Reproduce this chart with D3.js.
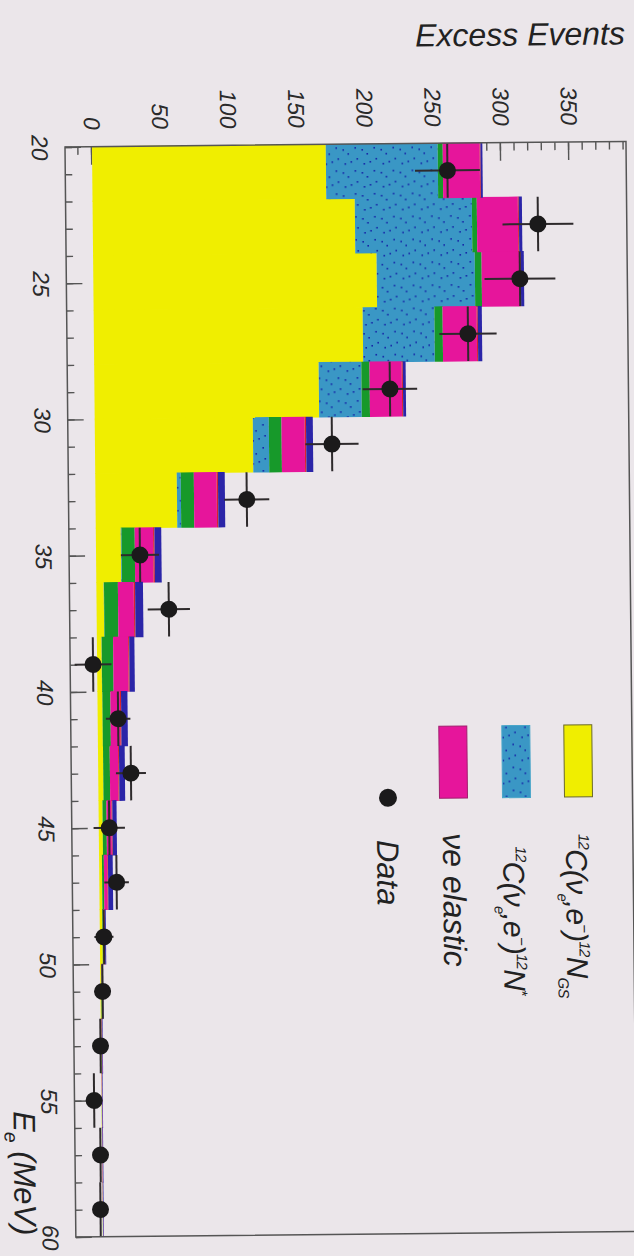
<!DOCTYPE html>
<html>
<head>
<meta charset="utf-8">
<script src="https://cdn.jsdelivr.net/npm/d3@7"></script>
<style>
  html, body { margin: 0; padding: 0; background: #ebe6ea; }
  svg { display: block; }
</style>
</head>
<body>
<script>
// Energy bins (lower edge, MeV), each 2 MeV wide
const binStarts = [20, 22, 24, 26, 28, 30, 32, 34, 36, 38, 40, 42, 44, 46, 48, 50, 52, 54, 56, 58];

// Predicted contributions per bin (events)
const c12GroundState = [171.5, 192.4, 208, 197.4, 164.7, 116, 59.8, 18.3, 5.4, 3.4, 3.6, 3.7, 2.9, 2.1, 2.0, 0.8, 0.4, 0.2, 0.1, 0.1];
const c12Excited     = [82.1, 85.9, 72, 52.6, 31.3, 11.7, 2.9, 0.5, 0.2, 0.1, 0, 0, 0, 0, 0, 0, 0, 0, 0, 0];
const otherGreen     = [3.7, 3.6, 5, 6, 6, 9.3, 9.6, 9.7, 10.2, 8.4, 5.9, 4.9, 2.9, 1.4, 0.6, 0.3, 0.2, 0.1, 0.1, 0.1];
const nuEElastic     = [27.1, 30.1, 28, 25, 23.6, 17, 16.7, 13.5, 11.6, 11, 7, 6.1, 3.7, 2.5, 0.9, 0.4, 0.3, 0.2, 0.2, 0.1];
const otherRed       = [0.6, 0.7, 0.7, 0.8, 0.8, 1, 1, 1, 1, 0.8, 0.8, 0.7, 0.6, 0.5, 0.3, 0.2, 0.1, 0.1, 0.1, 0.1];
const otherViolet    = [1.4, 2.3, 2.3, 3, 2.1, 5, 5, 5, 5.8, 3.8, 4.7, 4.2, 3.1, 3.5, 0.7, 0.4, 0.4, 0.4, 0.4, 0.4];

// Measured excess (bin centres, counts, statistical errors)
const dataEnergy = [21, 23, 25, 27, 29, 31, 33, 35, 37, 39, 41, 43, 45, 47, 49, 51, 53, 55, 57, 59];
const dataEvents = [260.6, 326.6, 313, 274.5, 216.8, 173.9, 111, 32.2, 53, -3, 15, 24, 7.7, 12.7, 3, 1.6, -0.3, -5.4, -1.1, -1.5];
const dataError  = [23.8, 26, 26, 21, 20, 19.5, 16.5, 14, 15.5, 13.5, 9, 11, 11.5, 9, 7, 6, 5, 6, 5, 5];

// Axis ticks
const energyLabels = [20, 25, 30, 35, 40, 45, 50, 55, 60];
const eventLabels  = [0, 50, 100, 150, 200, 250, 300, 350];

const W = 634, H = 1256;
const FONT = "'Liberation Sans', Arial, Helvetica, sans-serif";

const svg = d3.select("body").append("svg")
  .attr("width", W).attr("height", H)
  .attr("font-family", FONT);

svg.append("rect").attr("width", W).attr("height", H).attr("fill", "#ebe6ea");

// Speckled fill used for the excited-state component
const defs = svg.append("defs");
const speck = defs.append("pattern")
  .attr("id", "speck").attr("patternUnits", "userSpaceOnUse")
  .attr("width", 23).attr("height", 19);
speck.append("rect").attr("width", 23).attr("height", 19).attr("fill", "#3a97c5");
[[3, 4], [14, 2], [9, 11], [19, 14], [5, 16], [17, 8]].forEach(([cx, cy]) =>
  speck.append("rect").attr("x", cx).attr("y", cy).attr("width", 1.6).attr("height", 1.6).attr("fill", "#1424a8"));

// Whole figure sits slightly tilted on the page
const tilt = svg.append("g").attr("transform", "rotate(-0.57,65,147)");

// The plot is laid out with energy along its long side, then turned a quarter clockwise
const plotW = 1090, plotH = 561;
const g = tilt.append("g").attr("transform", "translate(626,147) rotate(90)");

const x = d3.scaleLinear().domain([20, 60]).range([0, plotW]);
const y = d3.scaleLinear().domain([-19.8, 391.8]).range([plotH, 0]);

const tickColor = "#555";

// Energy-axis ticks (inward)
g.append("g").attr("transform", `translate(0,${plotH})`)
  .call(d3.axisBottom(x).tickValues(d3.range(20, 61, 1)).tickSize(-7).tickFormat(""))
  .call(a => { a.select(".domain").remove(); a.selectAll("line").attr("stroke", tickColor).attr("stroke-width", 1.4); });
g.append("g").attr("transform", `translate(0,${plotH})`)
  .call(d3.axisBottom(x).tickValues(energyLabels).tickSize(-16).tickFormat(""))
  .call(a => { a.select(".domain").remove(); a.selectAll("line").attr("stroke", tickColor).attr("stroke-width", 1.4); });

// Event-axis ticks (inward)
g.append("g")
  .call(d3.axisLeft(y).tickValues(d3.range(-10, 391, 10)).tickSize(-8).tickFormat(""))
  .call(a => { a.select(".domain").remove(); a.selectAll("line").attr("stroke", tickColor).attr("stroke-width", 1.4); });
g.append("g")
  .call(d3.axisLeft(y).tickValues(eventLabels).tickSize(-18).tickFormat(""))
  .call(a => { a.select(".domain").remove(); a.selectAll("line").attr("stroke", tickColor).attr("stroke-width", 1.4); });

// Tick labels
g.append("g").attr("transform", `translate(0,${plotH})`)
  .call(d3.axisBottom(x).tickValues(energyLabels).tickSize(0).tickPadding(17))
  .call(a => {
    a.select(".domain").remove();
    a.selectAll("text").attr("font-size", 23).attr("font-style", "italic")
      .attr("font-family", FONT).attr("fill", "#2a2a2a");
  });
g.append("g")
  .call(d3.axisLeft(y).tickValues(eventLabels).tickSize(0).tickPadding(17))
  .call(a => {
    a.select(".domain").remove();
    a.selectAll("text").attr("font-size", 23).attr("font-style", "italic")
      .attr("font-family", FONT).attr("fill", "#2a2a2a");
  });

// Stacked prediction
const keys = ["gs", "nstar", "green", "elastic", "red", "violet"];
const fills = {
  gs: "#f0ee00", nstar: "url(#speck)", green: "#17992a",
  elastic: "#e6159b", red: "#d8222a", violet: "#2b25a8"
};
const table = binStarts.map((e, i) => ({
  e,
  gs: c12GroundState[i], nstar: c12Excited[i], green: otherGreen[i],
  elastic: nuEElastic[i], red: otherRed[i], violet: otherViolet[i]
}));
const layers = d3.stack().keys(keys)(table);

g.append("g").selectAll("g").data(layers).join("g")
  .attr("fill", d => fills[d.key])
  .selectAll("rect").data(d => d).join("rect")
  .attr("x", d => x(d.data.e) - 0.4)
  .attr("width", d => x(d.data.e + 2) - x(d.data.e) + 0.8)
  .attr("y", d => y(d[1]))
  .attr("height", d => Math.max(0, y(d[0]) - y(d[1])));

// Data points with error bars
const pts = dataEnergy.map((e, i) => ({ e, v: dataEvents[i], err: dataError[i] }));
const pg = g.append("g").attr("stroke", "#2e2a2c").attr("stroke-width", 2);
pg.selectAll("line.bin").data(pts).join("line").attr("class", "bin")
  .attr("x1", d => x(d.e - 1)).attr("x2", d => x(d.e + 1))
  .attr("y1", d => y(d.v)).attr("y2", d => y(d.v));
pg.selectAll("line.err").data(pts).join("line").attr("class", "err")
  .attr("x1", d => x(d.e)).attr("x2", d => x(d.e))
  .attr("y1", d => y(d.v - d.err)).attr("y2", d => y(d.v + d.err));
g.append("g").selectAll("circle").data(pts).join("circle")
  .attr("cx", d => x(d.e)).attr("cy", d => y(d.v)).attr("r", 8.5)
  .attr("fill", "#1b1a1b");

// Frame
g.append("rect").attr("width", plotW).attr("height", plotH)
  .attr("fill", "none").attr("stroke", "#555").attr("stroke-width", 1.5);

// Rich text helper: segments with optional superscript / subscript
function richText(parent, px, py, size, segs, anchor, scale, spacing) {
  const sc = scale || 0.62;
  const t = parent.append("text").attr("x", px).attr("y", py)
    .attr("font-size", size).attr("font-style", "italic")
    .attr("fill", "#222").attr("text-anchor", anchor || "start")
    .attr("letter-spacing", spacing || 0);
  let shift = 0;
  segs.forEach(([str, kind]) => {
    const target = kind === "sup" ? -0.42 * size : kind === "sub" ? 0.3 * size : 0;
    t.append("tspan")
      .attr("dy", target - shift)
      .attr("font-size", kind ? size * sc : size)
      .text(str);
    shift = target;
  });
  return t;
}

// Axis title along energy
richText(g, 1088, 622, 31, [["E", null], ["e", "sub"], [" (MeV)", null]], "end");

// Legend
const legend = g.append("g");
legend.append("rect").attr("x", 583).attr("y", 40).attr("width", 72).attr("height", 28)
  .attr("fill", "#f0ee00").attr("stroke", "#6b6a2a").attr("stroke-width", 1);
legend.append("rect").attr("x", 583).attr("y", 102).attr("width", 72).attr("height", 28)
  .attr("fill", "url(#speck)").attr("stroke", "#4aa6c9").attr("stroke-width", 1);
legend.append("rect").attr("x", 583).attr("y", 165).attr("width", 72).attr("height", 28)
  .attr("fill", "#e6159b").attr("stroke", "#a0206e").attr("stroke-width", 1);
legend.append("circle").attr("cx", 654).attr("cy", 244.5).attr("r", 9).attr("fill", "#1b1a1b");

richText(legend, 692, 67, 30, [["12", "sup"], ["C(ν", null], ["e", "sub"], [",e", null], ["−", "sup"], [")", null], ["12", "sup"], ["N", null], ["GS", "sub"]], "start", 0.5, -0.8);
richText(legend, 704, 130, 30, [["12", "sup"], ["C(ν", null], ["e", "sub"], [",e", null], ["−", "sup"], [")", null], ["12", "sup"], ["N", null], ["*", "sup"]], "start", 0.5, -0.8);
richText(legend, 690, 190, 32, [["νe elastic", null]]);
richText(legend, 696, 256, 31, [["Data", null]]);

// Vertical-axis title, set upright at the top
tilt.append("text").attr("x", 626).attr("y", 50)
  .attr("text-anchor", "end").attr("font-size", 32).attr("font-style", "italic")
  .attr("fill", "#222").text("Excess Events");
</script>
</body>
</html>
